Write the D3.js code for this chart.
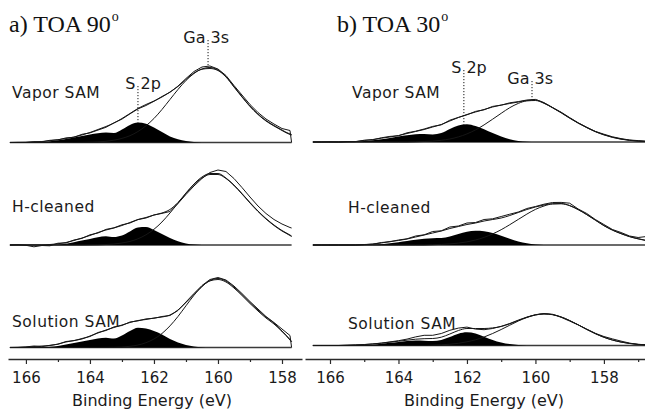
<!DOCTYPE html>
<html>
<head>
<meta charset="utf-8">
<script src="https://cdn.jsdelivr.net/npm/d3@7"></script>
<style>
  html, body { margin: 0; padding: 0; background: #fff; }
  svg { display: block; }
</style>
</head>
<body>
<svg id="chart" width="645" height="420"></svg>
<script>
// ---- Binding-energy grids (eV) ----
const energyA = [166.5,166.25,166,165.75,165.5,165.25,165,164.75,164.5,164.25,164,163.75,163.5,163.25,163,162.75,162.5,162.25,162,161.75,161.5,161.25,161,160.75,160.5,160.25,160,159.75,159.5,159.25,159,158.75,158.5,158.25,158,157.75,157.7];
const energyB = [166.5,166.25,166,165.75,165.5,165.25,165,164.75,164.5,164.25,164,163.75,163.5,163.25,163,162.75,162.5,162.25,162,161.75,161.5,161.25,161,160.75,160.5,160.25,160,159.75,159.5,159.25,159,158.75,158.5,158.25,158,157.75,157.5,157.25,157,156.75];

// ---- Tick labels ----
const majorTicksA = [166, 164, 162, 160, 158];
const minorTicksA = [165, 163, 161, 159];
const majorTicksB = [166, 164, 162, 160, 158];
const minorTicksB = [165, 163, 161, 159, 157];

const rowNames = ["Vapor SAM", "H-cleaned", "Solution SAM"];
const peakNames = ["S 2p", "Ga 3s"];
const peakEnergyA = [162.5, 160.31];
const peakEnergyB = [162.09, 160.1];
const axisTitle = "Binding Energy (eV)";

// ---- Panel a (TOA 90°): intensity, a.u. ----
const vaporA_raw = [0,0.2,0,0.8,0.6,2.2,2.6,4.6,5.2,8.2,9.6,12.4,15.2,19.6,23.4,28.6,33.6,37.0,41.2,46.0,50.2,56.4,64.0,71.0,75.5,76.5,73.5,67.0,57.0,47.5,38.0,30.0,23.5,18.5,14.0,12.0,0];
const vaporA_fit = [0,0,0.3,0.6,1.0,1.8,2.8,4.0,5.5,7.5,10.0,13.0,16.0,19.5,24.0,29.0,34.0,38.0,41.5,45.5,50.5,56.0,63.0,69.5,73.5,75.0,72.5,66.0,56.0,46.0,36.5,28.5,22.0,17.0,12.5,8.5,8.0];
const vaporA_ga  = [0,0,0,0,0,0,0,0,0,0.1,0.3,0.6,1.2,2.3,4.1,6.8,11,16.7,24,33,43,53,62,69,73.3,74,72,65.5,55.5,45.5,36,28,21.5,16.5,12,8,7.5];
const vaporA_s2p = [0,0,0,0,0.5,1.2,2.2,3.5,5.0,6.5,8.0,9.3,10.0,9.4,13.0,17.5,20.0,18.8,15.0,10.5,6.0,3.2,1.4,0.5,0.1,0,0,0,0,0,0,0,0,0,0,0,0];

const hcleanA_raw = [0,0.3,-0.3,-1.8,-0.5,-0.8,1.8,2.0,5.0,6.6,10.2,12.0,15.6,17.2,20.2,22.0,25.4,27.0,30.0,31.6,33.5,41.5,50.5,59.0,66.5,72.5,75.0,73.5,66.5,57.5,48.0,39.0,31.5,25.5,21.0,17.5,17.0];
const hcleanA_fit = [0,0,0,0,0,0.5,1.2,2.5,4.5,7.0,9.5,12.5,15.0,17.0,19.5,22.5,25.5,27.5,30.0,32.0,35.5,42.5,52.0,61.0,68.0,71.5,71.5,67.0,60.0,51.5,42.5,34.0,26.5,20.0,14.5,10.0,9.0];
const hcleanA_ga  = [0,0,0,0,0,0,0,0,0,0,0.1,0.2,0.5,1.0,2.0,3.6,6.2,10.2,15.7,23,32,41.8,51.5,60.5,67,70.5,70.5,66.5,59.5,51,42,33.5,26,19.5,14,9.5,8.5];
const hcleanA_s2p = [0,0,0,0,0,0,0.3,1.2,2.8,4.5,6.0,7.8,8.8,8.0,9.5,13.5,17.5,18.0,15.0,11.0,7.0,3.8,1.6,0.5,0.1,0,0,0,0,0,0,0,0,0,0,0,0];

const solutionA_raw = [0,0.2,0.6,1.5,0.8,2.2,3.2,6.0,6.8,9.0,11.0,15.0,17.0,20.6,22.0,25.5,26.6,28.6,29.2,31.0,32.0,37.0,45.5,54.0,62.0,68.0,70.0,67.5,61.5,54.0,46.0,38.5,31.0,25.0,18.5,12.0,0];
const solutionA_fit = [0,0,0.3,1.0,1.5,2.0,3.5,5.5,7.0,8.5,11.5,14.5,17.5,20.0,22.5,25.0,27.0,28.0,29.5,30.5,32.5,37.5,45.0,53.0,61.0,67.0,69.0,66.5,60.5,53.0,45.0,37.5,30.5,24.5,16.5,8.0,6.0];
const solutionA_ga  = [0,0,0,0,0,0,0,0,0,0,0,0,0.1,0.2,0.5,1.2,2.5,4.8,8.5,14,21.6,31,41.7,52.2,61,66.6,68,65.5,59.5,52,44,36.5,29.5,23.5,16,7.5,5.5];
const solutionA_s2p = [0,0,0,0,0.3,0.8,1.5,3.0,4.5,6.0,7.5,9.0,9.8,9.0,12.0,16.5,19.8,19.0,16.5,13.0,8.5,5.0,2.5,1.0,0.3,0,0,0,0,0,0,0,0,0,0,0,0];

// ---- Panel b (TOA 30°): intensity, a.u. ----
const vaporB_raw = [0,0,0.2,0,0.5,0.3,1.8,2.2,4.2,5.6,6.2,9.2,10.8,13.0,15.6,17.2,21.8,24.6,27.2,30.6,32.2,35.6,36.8,39.2,40.4,42.0,42.6,39.4,34.4,29.8,24.4,19.2,14.8,10.6,7.8,5.2,3.4,2.0,1.4,0.8];
const vaporB_fit = [0,0,0,0,0.2,0.5,1.5,2.5,3.8,5.0,6.5,8.5,10.5,12.5,15.0,17.5,21.0,24.5,27.5,30.0,32.5,35.0,37.0,38.5,40.0,41.5,42.0,39.0,34.5,29.5,24.0,19.0,14.5,10.5,7.3,4.8,3.0,1.8,1.0,0.6];
const vaporB_ga  = [0,0,0,0,0,0,0,0,0,0,0,0,0.2,0.5,0.9,1.7,3.0,5.1,8.1,12.1,17.1,22.8,28.7,34.3,38.6,41.1,41.5,38.7,34.2,29.2,23.8,18.8,14.3,10.3,7.1,4.6,2.8,1.6,0.8,0.4];
const vaporB_s2p = [0,0,0,0,0,0.3,1.0,1.8,2.8,4.0,5.5,6.8,7.8,8.0,7.6,9.0,13.0,16.5,17.8,16.0,12.8,9.0,5.5,2.8,1.0,0.3,0,0,0,0,0,0,0,0,0,0,0,0,0,0];

const hcleanB_raw = [0,0,0,0,0,0,0.5,0.8,2.5,3.2,5.0,6.2,9.0,10.2,13.5,14.2,18.0,19.0,22.0,22.5,25.5,26.2,28.5,30.8,33.0,36.5,38.5,40.8,42.5,42.6,41.8,36.0,31.5,25.5,20.5,15.5,12.5,9.0,7.5,8.5];
const hcleanB_fit = [0,0,0,0,0,0,0.3,1.0,2.0,3.5,4.5,6.0,8.0,10.0,12.0,14.0,16.5,18.5,20.5,22.0,24.0,25.5,27.0,29.5,32.5,35.5,38.0,40.0,41.3,41.5,39.5,35.5,30.5,25.0,19.5,15.0,11.5,8.5,6.3,4.5];
const hcleanB_ga  = [0,0,0,0,0,0,0,0,0,0,0,0,0,0,0.3,0.6,1.1,1.9,3.1,5.0,7.6,11.1,15.3,20.3,25.6,30.9,35.6,39.0,41.0,41.2,39.3,35.3,30.3,24.8,19.3,14.8,11.3,8.3,6.1,4.3];
const hcleanB_s2p = [0,0,0,0,0,0,0,0.2,0.8,1.8,2.8,4.0,5.2,6.2,6.8,7.0,8.5,11.0,13.2,14.3,13.8,12.0,9.2,6.2,3.6,1.8,0.6,0.1,0,0,0,0,0,0,0,0,0,0,0,0];

const solutionB_raw = [0,0,0,0,0.3,0.6,1.0,1.6,2.4,3.6,4.8,6.4,8.6,10.2,10.2,12.0,15.2,17.4,18.4,16.4,15.8,17.0,19.2,22.0,25.4,28.4,30.8,32.0,31.2,28.2,24.4,20.6,16.4,12.2,9.0,6.6,4.4,2.4,1.0,0.6];
const solutionB_fit = [0,0,0,0,0.2,0.5,0.9,1.5,2.3,3.3,4.3,5.3,6.3,6.8,7.0,8.3,11.5,15.0,17.0,17.0,17.0,17.6,19.0,21.7,25.0,28.2,30.6,31.6,30.9,28.6,25.0,20.7,16.1,11.9,8.3,5.5,3.5,2.1,1.2,0.7];
const solutionB_ga  = [0,0,0,0,0,0,0,0,0,0,0,0,0,0,0.4,0.7,1.3,2.2,3.7,5.7,8.5,12.0,16.0,20.3,24.5,28.0,30.5,31.5,30.8,28.5,24.9,20.6,16.0,11.8,8.2,5.4,3.4,2.0,1.1,0.6];
const solutionB_s2p = [0,0,0,0,0,0,0.2,0.8,1.8,2.8,3.6,4.4,5.0,4.8,4.4,5.6,8.5,11.8,13.2,12.0,8.8,5.6,3.0,1.4,0.5,0.1,0,0,0,0,0,0,0,0,0,0,0,0,0,0];

// ---- Layout ----
const sans = "'DejaVu Sans', 'Noto Sans', sans-serif";
const serif = "'Liberation Serif', 'DejaVu Serif', serif";
const axisY = 359;
const ink = "#161616";

const panels = [
  {
    energy: energyA, domain: [166.56, 157.375], range: [8, 302],
    title: "a) TOA 90", titleX: 9, axisTitleX: 152,
    major: majorTicksA, minor: minorTicksA,
    rows: [
      { raw: vaporA_raw, fit: vaporA_fit, ga: vaporA_ga, s2p: vaporA_s2p, base: 142.5, labelX: 12, labelY: 98 },
      { raw: hcleanA_raw, fit: hcleanA_fit, ga: hcleanA_ga, s2p: hcleanA_s2p, base: 245, labelX: 12, labelY: 212 },
      { raw: solutionA_raw, fit: solutionA_fit, ga: solutionA_ga, s2p: solutionA_s2p, base: 347.5, labelX: 12, labelY: 327 }
    ],
    peaks: [
      { energy: peakEnergyA[0], labelY: 89, series: "s2p" },
      { energy: peakEnergyA[1], labelY: 43, series: "raw" }
    ]
  },
  {
    energy: energyB, domain: [166.73, 156.8], range: [305, 645],
    title: "b) TOA 30", titleX: 337, axisTitleX: 484,
    major: majorTicksB, minor: minorTicksB,
    rows: [
      { raw: vaporB_raw, fit: vaporB_fit, ga: vaporB_ga, s2p: vaporB_s2p, base: 142, labelX: 352, labelY: 98 },
      { raw: hcleanB_raw, fit: hcleanB_fit, ga: hcleanB_ga, s2p: hcleanB_s2p, base: 245, labelX: 348, labelY: 213 },
      { raw: solutionB_raw, fit: solutionB_fit, ga: solutionB_ga, s2p: solutionB_s2p, base: 345.5, labelX: 348, labelY: 329 }
    ],
    peaks: [
      { energy: peakEnergyB[0], labelY: 73, series: "s2p" },
      { energy: peakEnergyB[1], labelY: 84, series: "raw" }
    ]
  }
];

const svg = d3.select("#chart");

// linear lookup of a series at a given energy
function valueAt(energy, values, e) {
  for (let i = 0; i < energy.length - 1; i++) {
    const e0 = energy[i], e1 = energy[i + 1];
    if (e <= e0 && e >= e1) {
      const t = (e0 - e) / (e0 - e1);
      return values[i] + t * (values[i + 1] - values[i]);
    }
  }
  return 0;
}

panels.forEach(p => {
  const g = svg.append("g");
  const x = d3.scaleLinear().domain(p.domain).range(p.range);

  p.rows.forEach((row, ri) => {
    const y = d3.scaleLinear().domain([0, 100]).range([row.base, row.base - 100]);
    const pts = k => p.energy.map((e, i) => [e, row[k][i]]);

    const rg = g.append("g");

    // zero line under the spectrum
    rg.append("line")
      .attr("x1", x(p.energy[0])).attr("x2", x(p.energy[p.energy.length - 1]))
      .attr("y1", y(0)).attr("y2", y(0))
      .attr("stroke", "#3a3a3a").attr("stroke-width", 1.3);

    // S 2p doublet, filled
    rg.append("path")
      .attr("d", d3.area().x(d => x(d[0])).y0(y(0)).y1(d => y(d[1])).curve(d3.curveMonotoneX)(pts("s2p")))
      .attr("fill", "#000");

    const smooth = d3.line().x(d => x(d[0])).y(d => y(d[1])).curve(d3.curveMonotoneX);
    const linear = d3.line().x(d => x(d[0])).y(d => y(d[1]));

    // Ga 3s component
    rg.append("path").attr("d", smooth(pts("ga")))
      .attr("fill", "none").attr("stroke", ink).attr("stroke-width", 1);
    // fit envelope
    rg.append("path").attr("d", smooth(pts("fit")))
      .attr("fill", "none").attr("stroke", ink).attr("stroke-width", 1);
    // measured spectrum
    rg.append("path").attr("d", linear(pts("raw")))
      .attr("fill", "none").attr("stroke", ink).attr("stroke-width", 1).attr("stroke-linejoin", "round");

    rg.append("text")
      .attr("x", row.labelX).attr("y", row.labelY)
      .attr("font-family", sans).attr("font-size", 15.5).attr("letter-spacing", 0.5)
      .attr("fill", "#1a1a1a")
      .text(rowNames[ri]);

    row.y = y;
  });

  // peak markers on the top spectrum
  const top = p.rows[0];
  p.peaks.forEach((pk, k) => {
    const px = x(pk.energy);
    const yEnd = top.y(valueAt(p.energy, top[pk.series], pk.energy));
    g.append("line")
      .attr("x1", px).attr("x2", px)
      .attr("y1", pk.labelY - 3).attr("y2", yEnd)
      .attr("stroke", ink).attr("stroke-width", 1)
      .attr("stroke-dasharray", "1.2,1.8");
    const t = g.append("text")
      .attr("y", pk.labelY)
      .attr("font-family", sans).attr("font-size", 16)
      .attr("fill", "#1a1a1a")
      .text(peakNames[k]);
    const node = t.node();
    const sp = peakNames[k].indexOf(" ");
    const offset = node.getSubStringLength(0, sp) + node.getSubStringLength(sp, 1) / 2;
    t.attr("x", px - offset);
  });

  // panel title with degree superscript
  const title = g.append("text")
    .attr("x", p.titleX).attr("y", 32)
    .attr("font-family", serif).attr("font-size", 24)
    .attr("fill", "#111")
    .text(p.title);
  title.append("tspan").attr("font-size", 14).attr("dx", 1).attr("dy", -11).text("o");

  // energy axis
  const axis = g.append("g").attr("transform", `translate(0,${axisY})`)
    .call(d3.axisBottom(x).tickValues(p.major).tickFormat(d3.format("d"))
      .tickSize(5).tickSizeOuter(0).tickPadding(8));
  axis.select(".domain").attr("stroke", "#2a2a2a").attr("stroke-width", 1.4);
  axis.selectAll(".tick line").attr("stroke", "#2a2a2a").attr("stroke-width", 1.2);
  axis.selectAll(".tick text")
    .attr("font-family", sans).attr("font-size", 15).attr("fill", "#1a1a1a");

  const minorAxis = g.append("g").attr("transform", `translate(0,${axisY})`)
    .call(d3.axisBottom(x).tickValues(p.minor).tickFormat("").tickSize(3).tickSizeOuter(0));
  minorAxis.select(".domain").remove();
  minorAxis.selectAll(".tick line").attr("stroke", "#2a2a2a").attr("stroke-width", 1.2);

  g.append("text")
    .attr("x", p.axisTitleX).attr("y", 406)
    .attr("text-anchor", "middle")
    .attr("font-family", sans).attr("font-size", 16)
    .attr("fill", "#1a1a1a")
    .text(axisTitle);
});
</script>
</body>
</html>
